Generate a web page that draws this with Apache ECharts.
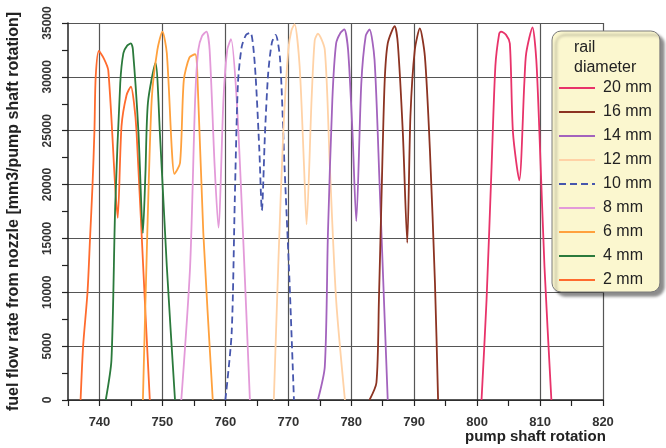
<!DOCTYPE html>
<html>
<head>
<meta charset="UTF-8">
<title>rail diameter</title>
<script type="text/javascript" src="https://cdn.jsdelivr.net/npm/echarts@6/dist/echarts.min.js"></script>
</head>
<body style="margin:0">
	<div id="div1" style="width:666px;height:448px"></div>
	<script type="text/javascript">
	// [pump shaft rotation, fuel flow rate]
	var d2mm = [[737.0,0],[737.4,5000],[738.1,10000],[738.5,15000],[738.9,20000],[739.2,25000],[739.4,30000],[739.9,32400],[740.7,31700],[741.4,30600],[742.5,19800],[742.9,16900],[743.5,25400],[744.3,28300],[745.0,29100],[745.5,27500],[745.9,24800],[747.2,9300],[748.0,0]];
	var d4mm = [[741.0,0],[741.9,3700],[742.5,18000],[743.3,29400],[743.8,32200],[744.4,32900],[745.0,33100],[745.3,32600],[746.2,24800],[746.9,15500],[747.3,21000],[747.7,27600],[748.9,31300],[749.6,24800],[750.7,12400],[752.0,0]];
	var d6mm = [[746.9,0],[747.6,15500],[748.3,27900],[749.2,32500],[750.0,34200],[750.7,32200],[751.5,23200],[751.9,21000],[752.8,22000],[753.4,29700],[754.3,31800],[755.2,32100],[755.5,31000],[756.5,15500],[758.0,0]];
	var d8mm = [[753.0,0],[754.4,12400],[755.2,27900],[755.7,32500],[756.3,33800],[757.0,34200],[757.5,32500],[758.3,21700],[758.9,16000],[759.7,27900],[760.3,32500],[760.9,33500],[761.8,27900],[762.8,15500],[763.9,0]];
	var d10mm = [[760.0,0],[761.0,6200],[761.5,18600],[762.0,29400],[762.6,32800],[763.3,33900],[764.0,34100],[764.7,31000],[765.4,23200],[765.8,17600],[766.3,24800],[766.8,30300],[767.4,33200],[768.0,33900],[768.7,31600],[769.4,21700],[770.2,10900],[770.9,0]];
	var d12mm = [[767.7,0],[768.4,12400],[769.2,24800],[770.0,32500],[770.5,34300],[771.0,34900],[771.8,31000],[772.5,21700],[772.9,16300],[773.7,27900],[774.2,33400],[774.7,34000],[775.8,32500],[776.6,21700],[777.6,9300],[779.0,0]];
	var d14mm = [[774.7,0],[775.8,3100],[776.3,15500],[777.0,27900],[777.6,33100],[778.3,34100],[778.9,34400],[779.5,32500],[780.2,24800],[780.8,16600],[781.6,29400],[782.3,33800],[782.9,34400],[783.7,31600],[784.5,20100],[785.3,7700],[785.8,0]];
	var d16mm = [[782.9,0],[784.0,1600],[784.4,9300],[784.8,18600],[785.3,29400],[785.8,33100],[786.9,34700],[787.4,33100],[788.2,24800],[788.9,14600],[789.4,26300],[790.1,32500],[790.9,34500],[791.7,31900],[792.5,23200],[793.3,10900],[793.8,0]];
	var d20mm = [[800.7,0],[801.5,9300],[802.3,21700],[802.9,31000],[803.5,34000],[803.8,34200],[804.6,33900],[805.2,33100],[805.7,24800],[806.7,20400],[807.5,29400],[807.8,32200],[808.8,34600],[809.4,31600],[809.9,24800],[810.7,12400],[811.8,0]];

	var names = ['20 mm','16 mm','14 mm','12 mm','10 mm','8 mm','6 mm','4 mm','2 mm'];
	var datas = [d20mm, d16mm, d14mm, d12mm, d10mm, d8mm, d6mm, d4mm, d2mm];
	var colors = ['#e8336a','#8c3322','#a363bd','#ffd2a6','#4656ad','#e39ad9','#ffa13d','#2b7a3c','#ff6b2e'];

	var font = 'Liberation Sans, Arial, sans-serif';
	var myChart = echarts.init(document.getElementById('div1'));

	var series = [];
	for (var i = datas.length - 1; i >= 0; i--) {
		series.push({
			name: names[i],
			type: 'line',
			data: datas[i],
			smooth: 0.25,
			symbol: 'none',
			lineStyle: {
				color: colors[i],
				width: 1.8,
				type: names[i] == '10 mm' ? [7, 4] : 'solid'
			},
			itemStyle: { color: colors[i] }
		});
	}

	option = {
		animation: false,
		backgroundColor: '#fff',
		grid: { left: 68, right: 63, top: 23, bottom: 48, containLabel: false, outerBoundsMode: 'none' },
		xAxis: {
			type: 'value',
			min: 735, max: 820, interval: 5,
			name: 'pump shaft rotation',
			nameLocation: 'end',
			nameGap: -138,
			nameTextStyle: { fontFamily: font, fontWeight: 'bold', fontSize: 15, color: '#222',
				verticalAlign: 'top', padding: [29, 0, 0, 0] },
			axisLine: { lineStyle: { color: '#222', width: 1.5 } },
			axisTick: { length: 6, lineStyle: { color: '#222', width: 1.2 } },
			axisLabel: {
				margin: 16, fontFamily: font, fontWeight: 'bold', fontSize: 13, color: '#333',
				formatter: function (v) { return v % 10 === 0 ? v : ''; }
			},
			splitLine: { show: true, lineStyle: { color: ['rgba(0,0,0,0)', '#555'], width: 1.2 } }
		},
		yAxis: {
			type: 'value',
			min: 0, max: 35000, interval: 2500,
			name: 'fuel flow rate from nozzle [mm3/pump shaft rotation]',
			nameLocation: 'middle',
			nameGap: 46,
			nameTextStyle: { fontFamily: font, fontWeight: 'bold', fontSize: 16, color: '#222' },
			axisLine: { show: true, lineStyle: { color: '#222', width: 1.5 } },
			axisTick: { show: true, length: 6, lineStyle: { color: '#222', width: 1.2 } },
			axisLabel: {
				rotate: 90, margin: 14, fontFamily: font, fontWeight: 'bold', fontSize: 12, color: '#333',
				formatter: function (v) { return v % 5000 === 0 ? v : ''; }
			},
			splitLine: { show: true, lineStyle: { color: ['#555', 'rgba(0,0,0,0)'], width: 1.2 } }
		},
		legend: {
			data: names,
			orient: 'vertical',
			left: 552, top: 31,
			padding: [49, 8, 4, 6],
			itemWidth: 36, itemHeight: 14, itemGap: 8,
			itemStyle: { color: 'rgba(0,0,0,0)', borderWidth: 0, opacity: 0 },
			backgroundColor: '#fbf7cf',
			borderColor: '#7a7a7a', borderWidth: 1, borderRadius: 9,
			shadowColor: 'rgba(0,0,0,0.45)', shadowBlur: 3, shadowOffsetX: 4, shadowOffsetY: 4,
			textStyle: { fontFamily: font, fontSize: 16, color: '#222', lineHeight: 16, padding: [0, 0, 0, 3] }
		},
		graphic: [{
			type: 'text', left: 574, top: 38, z: 100,
			style: { text: 'rail\ndiameter', fontFamily: font, fontSize: 16, lineHeight: 20, fill: '#222' }
		}],
		series: series
	};
	myChart.setOption(option);
	</script>
</body>
</html>
